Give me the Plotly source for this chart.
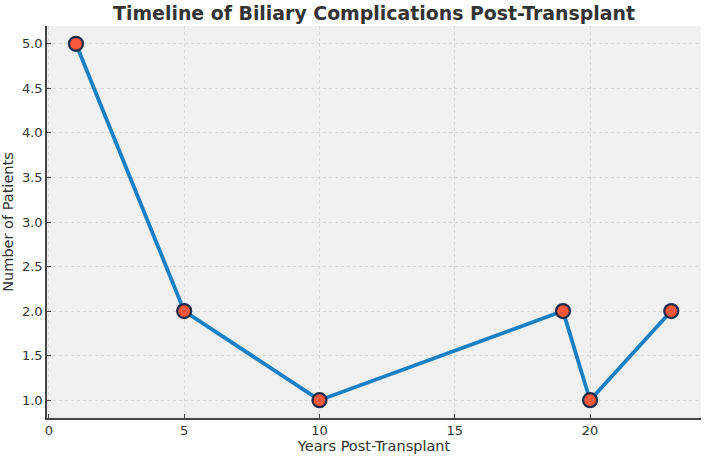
import plotly.graph_objects as go

years = [1, 5, 10, 19, 20, 23]
patients = [5, 2, 1, 2, 1, 2]
x_ticks = [0, 5, 10, 15, 20]
y_ticks = [1.0, 1.5, 2.0, 2.5, 3.0, 3.5, 4.0, 4.5, 5.0]

fig = go.Figure()
fig.add_trace(go.Scatter(
    x=years, y=patients, mode="lines+markers",
    line=dict(color="#1b7fc4", width=3.8),
    marker=dict(color="#f4573a", size=14, line=dict(color="#1c2b4a", width=2.2)),
    showlegend=False,
))

axis_common = dict(
    showline=True, linecolor="#444444", linewidth=1.5, mirror=False,
    ticks="inside", ticklen=4, tickcolor="#444444",
    showgrid=True, gridcolor="#d8d8d8", griddash="dot", gridwidth=1,
    zeroline=False,
    tickfont=dict(family="DejaVu Sans", size=13, color="#333333"),
)

fig.update_layout(
    width=708, height=459,
    margin=dict(l=44, r=7, t=26, b=41),
    paper_bgcolor="white", plot_bgcolor="#f0f0f0",
    title=dict(text="<b>Timeline of Biliary Complications Post-Transplant</b>",
               xref="paper", x=0.5, xanchor="center", y=0.985, yanchor="top",
               font=dict(family="DejaVu Sans", size=18.9, color="#333333")),
    xaxis=dict(range=[-0.07, 24.1], tickvals=x_ticks, ticktext=[str(v) for v in x_ticks],
               title=dict(text="Years Post-Transplant", standoff=4,
                          font=dict(family="DejaVu Sans", size=14.5, color="#333333")),
               **axis_common),
    yaxis=dict(range=[0.8, 5.2], tickvals=y_ticks, ticktext=[f"{v:.1f}" for v in y_ticks],
               title=dict(text="Number of Patients", standoff=5,
                          font=dict(family="DejaVu Sans", size=14.5, color="#333333")),
               **axis_common),
)

fig.write_html("out.html")
